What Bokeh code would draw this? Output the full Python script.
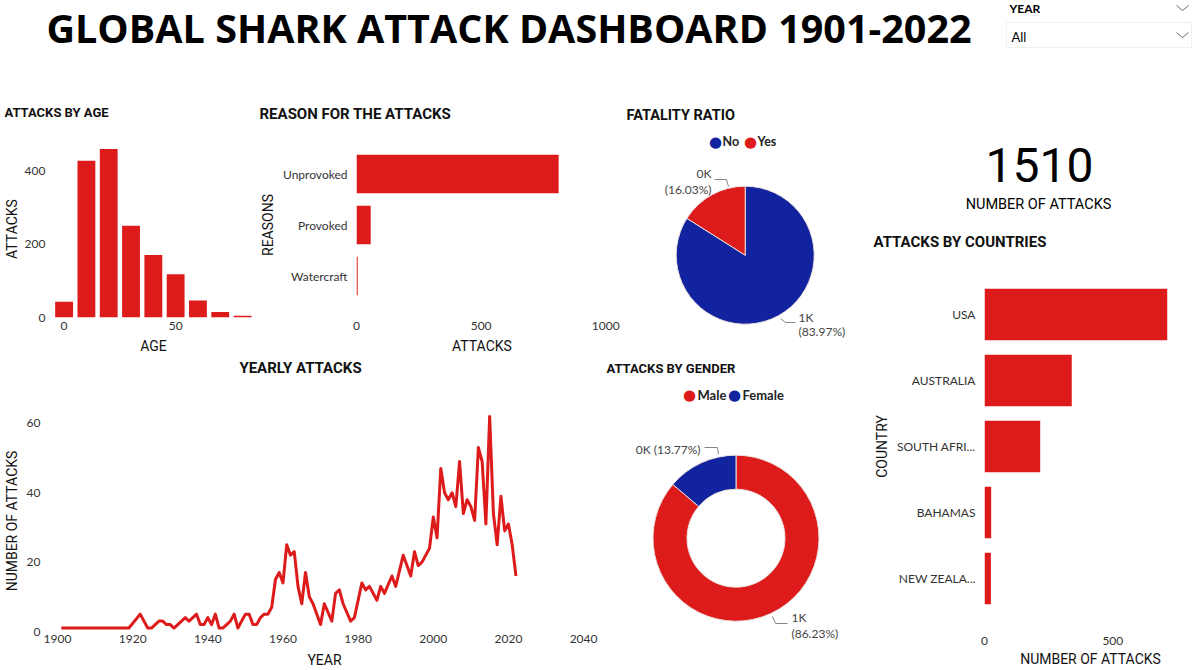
import numpy as np
from bokeh.plotting import figure
from bokeh.models import Range1d, FactorRange, FixedTicker, Label, ColumnDataSource
from bokeh.layouts import row, column
from bokeh.embed import file_html
from bokeh.resources import INLINE

# ---------------- data ----------------
age_bins = [0, 10, 20, 30, 40, 50, 60, 70, 80]
age_attacks = [43, 427, 459, 250, 170, 118, 46, 15, 5]

reasons = ["Unprovoked", "Provoked", "Watercraft"]
reason_attacks = [811, 57, 5]

fatal_labels = ["No", "Yes"]
fatal_counts = [1268, 242]

gender_labels = ["Male", "Female"]
gender_counts = [1302, 208]

countries = ["USA", "AUSTRALIA", "SOUTH AFRICA", "BAHAMAS", "NEW ZEALAND"]
country_attacks = [712, 340, 217, 26, 25]
country_short = {"SOUTH AFRICA": "SOUTH AFRI...", "NEW ZEALAND": "NEW ZEALA..."}

years = [1901, 1919, 1922, 1924, 1925, 1927, 1928, 1929, 1930, 1931, 1934, 1935,
         1937, 1938, 1939, 1940, 1941, 1942, 1943, 1944, 1945, 1946, 1947, 1948,
         1950, 1951, 1952, 1953, 1954, 1955, 1956, 1957, 1958, 1959, 1960, 1961,
         1962, 1963, 1964, 1965, 1966, 1967, 1968, 1970, 1971, 1973, 1974, 1975,
         1976, 1978, 1979, 1981, 1982, 1983, 1985, 1986, 1987, 1989, 1990, 1992,
         1994, 1995, 1996, 1997, 1999, 2000, 2001, 2002, 2003, 2004, 2005, 2006,
         2007, 2008, 2009, 2010, 2011, 2012, 2013, 2014, 2015, 2016, 2017, 2018,
         2019, 2020, 2021, 2022]
yearly_attacks = [1, 1, 5, 1, 1, 3, 3, 2, 2, 1, 4, 3,
                  5, 2, 2, 4, 2, 5, 1, 1, 2, 3, 5, 1,
                  5, 5, 2, 2, 4, 5, 5, 7, 15, 17, 14, 25,
                  22, 23, 13, 8, 17, 10, 8, 2, 8, 3, 11, 12,
                  8, 3, 4, 14, 12, 13, 9, 13, 11, 16, 13, 22,
                  16, 23, 19, 20, 24, 33, 27, 47, 40, 38, 40, 36,
                  49, 34, 38, 36, 32, 53, 49, 31, 62, 34, 25, 39,
                  29, 31, 25, 16]

total_attacks = 1510
dashboard_title = "GLOBAL SHARK ATTACK DASHBOARD 1901-2022"

# ---------------- style ----------------
BG = "#E9DFDC"
RED = "#DE1B1B"
BLUE = "#11239E"
INK = "#111111"
TICK = "#333333"
TF = "Roboto"
LF = "Lato"
HF = "Open Sans"


def base_fig(w, h, axes=True, **kw):
    if not axes:
        kw.setdefault("x_axis_location", None)
        kw.setdefault("y_axis_location", None)
        kw.setdefault("x_range", Range1d(0, 1))
        kw.setdefault("y_range", Range1d(0, 1))
    p = figure(width=w, height=h, output_backend="svg", toolbar_location=None, **kw)
    p.background_fill_color = None
    p.border_fill_color = None
    p.outline_line_color = None
    p.grid.visible = False
    if "frame_align" in p.properties():
        p.frame_align = False
    if not axes:
        p.min_border = 0
    return p


def style_axes(p):
    for ax in p.axis:
        ax.axis_line_color = None
        ax.major_tick_line_color = None
        ax.minor_tick_line_color = None
        ax.major_tick_out = 0
        ax.major_tick_in = 0
        ax.major_label_text_font = LF
        ax.major_label_text_font_size = "12px"
        ax.major_label_text_color = TICK
        ax.axis_label_text_font = TF
        ax.axis_label_text_font_size = "14px"
        ax.axis_label_text_font_style = "normal"
        ax.axis_label_text_color = INK


def txt(p, x, y, text, size, font=TF, bold=False, color=INK, align="left", baseline="middle"):
    p.add_layout(Label(x=x, y=y, x_units="canvas", y_units="canvas", text=text,
                       text_font=font, text_font_size=f"{size}px",
                       text_font_style="bold" if bold else "normal",
                       text_color=color, text_align=align, text_baseline=baseline))


def title_fig(w, h, text, x, y, size, align="left"):
    t = base_fig(w, h, axes=False)
    txt(t, x, y, text, size, bold=True, align=align)
    return t


def clock_angles(counts):
    fr = np.cumsum([0] + list(counts)) / float(sum(counts))
    return list(np.pi / 2 - 2 * np.pi * fr[:-1]), list(np.pi / 2 - 2 * np.pi * fr[1:])


def klabel(v):
    return f"{round(v / 1000)}K"


def plabel(v, tot):
    return f"({v / tot * 100:.2f}%)"


def leader(p, pts, cx, cy):
    p.line([x - cx for x, _ in pts], [cy - y for _, y in pts], line_color="#8A8480", line_width=1)


# ---------------- header (0,0) 1200x92 ----------------
p_head = base_fig(1200, 92, axes=False, x_range=Range1d(0, 1200), y_range=Range1d(92, 0))
txt(p_head, 508.5, 27, dashboard_title, 39.5, font=HF, bold=True, color="#000000", align="center",
    baseline="alphabetic")
txt(p_head, 1009, 8, "YEAR", 12, font=LF, bold=True, color="#000000")
txt(p_head, 1011, 36, "All", 13, font=LF, color="#000000")
p_head.quad(left=[1006], right=[1191], top=[22], bottom=[47], fill_color=None, line_color="#F4EFEE",
            line_width=1)
p_head.multi_line(xs=[[1176, 1182, 1188], [1176, 1182, 1188]], ys=[[5, 10, 5], [32, 37, 32]],
                  line_color="#6E6A68", line_width=1)

# ---------------- attacks by age: title (0,92) 255x48, chart (0,140) 255x216 ----------------
t_age = title_fig(255, 48, "ATTACKS BY AGE", 4, 20, 13)
p_age = base_fig(255, 216, x_range=Range1d(-4.75, 84.9), y_range=Range1d(0, 482),
                 min_border_left=51, min_border_right=2, min_border_top=0, min_border_bottom=39)
p_age.vbar(x=age_bins, top=age_attacks, width=8, fill_color=RED, line_color=None)
style_axes(p_age)
p_age.xaxis.ticker = FixedTicker(ticks=[0, 50])
p_age.yaxis.ticker = FixedTicker(ticks=[0, 200, 400])
p_age.xaxis.axis_label = "AGE"
p_age.yaxis.axis_label = "ATTACKS"
p_age.xaxis.major_label_standoff = 4
p_age.xaxis.axis_label_standoff = 5
p_age.yaxis.major_label_standoff = 8
p_age.yaxis.axis_label_standoff = 2

# ---------------- reasons: title (255,92) 365x56, chart (255,148) 365x208 ----------------
t_rea = title_fig(365, 56, "REASON FOR THE ATTACKS", 4, 21, 15)
p_rea = base_fig(365, 208, x_range=Range1d(0, 1007), y_range=FactorRange(*reasons[::-1]),
                 min_border_left=101, min_border_right=13, min_border_top=0, min_border_bottom=55)
p_rea.hbar(y=reasons, right=reason_attacks, height=0.754, fill_color=RED, line_color=None)
style_axes(p_rea)
p_rea.xaxis.ticker = FixedTicker(ticks=[0, 500, 1000])
p_rea.xaxis.axis_label = "ATTACKS"
p_rea.yaxis.axis_label = "REASONS"
p_rea.xaxis.major_label_standoff = 20
p_rea.xaxis.axis_label_standoff = 5
p_rea.yaxis.major_label_standoff = 9
p_rea.yaxis.axis_label_standoff = 4

# ---------------- fatality pie (620,92) 240x264 ----------------
FW, FH, fcx, fcy, FR = 240, 264, 124.7, 162.7, 69
p_fat = base_fig(FW, FH, axes=False, x_range=Range1d(-fcx, FW - fcx), y_range=Range1d(-(FH - fcy), fcy))
fs, fe = clock_angles(fatal_counts)
fsrc = ColumnDataSource(dict(label=fatal_labels, count=fatal_counts, start=fs, end=fe, color=[BLUE, RED]))
p_fat.wedge(x=0, y=0, radius=FR, start_angle="start", end_angle="end", direction="clock",
            fill_color="color", line_color=BG, line_width=1, source=fsrc)
ftot = sum(fatal_counts)
txt(p_fat, 6, 23, "FATALITY RATIO", 14.5, bold=True)
txt(p_fat, 95, 49, "\u25CF", 15, font="DejaVu Sans", color=BLUE, align="center")
txt(p_fat, 102, 49, fatal_labels[0], 12.5, font=LF, bold=True, color="#222222")
txt(p_fat, 130, 49, "\u25CF", 15, font="DejaVu Sans", color=RED, align="center")
txt(p_fat, 137, 49, fatal_labels[1], 12.5, font=LF, bold=True, color="#222222")
txt(p_fat, 91, 81, klabel(fatal_counts[1]), 12, font=LF, color="#444444", align="right")
txt(p_fat, 91, 97, plabel(fatal_counts[1], ftot), 12, font=LF, color="#444444", align="right")
txt(p_fat, 178, 225, klabel(fatal_counts[0]), 12, font=LF, color="#444444")
txt(p_fat, 178, 239, plabel(fatal_counts[0], ftot), 12, font=LF, color="#444444")
leader(p_fat, [(94, 87), (106, 87), (108, 94)], fcx, fcy)
leader(p_fat, [(160, 226), (165, 230), (175, 230)], fcx, fcy)

# ---------------- KPI (860,92) 340x128 ----------------
p_kpi = base_fig(340, 128, axes=False)
txt(p_kpi, 179, 72, f"{total_attacks}", 48, font=TF, color="#000000", align="center")
txt(p_kpi, 178, 112, "NUMBER OF ATTACKS", 14.5, font=TF, color="#000000", align="center")

# ---------------- countries: title (860,220) 340x61, chart (860,281) 340x389 ----------------
t_cty = title_fig(340, 61, "ATTACKS BY COUNTRIES", 13, 21, 15)
country_names = [country_short.get(c, c) for c in countries]
p_cty = base_fig(340, 389, x_range=Range1d(0, 826), y_range=FactorRange(*country_names[::-1]),
                 min_border_left=124, min_border_right=4, min_border_top=0, min_border_bottom=59)
p_cty.hbar(y=country_names, right=country_attacks, height=0.78, fill_color=RED, line_color=None)
style_axes(p_cty)
p_cty.xaxis.ticker = FixedTicker(ticks=[0, 500])
p_cty.xaxis.axis_label = "NUMBER OF ATTACKS"
p_cty.yaxis.axis_label = "COUNTRY"
p_cty.xaxis.major_label_standoff = 25
p_cty.xaxis.axis_label_standoff = 3
p_cty.yaxis.major_label_standoff = 9
p_cty.yaxis.axis_label_standoff = 4

# ---------------- yearly: title (0,356) 600x54, chart (0,410) 600x260 ----------------
t_yr = title_fig(600, 54, "YEARLY ATTACKS", 300, 11, 15, align="center")
p_yr = base_fig(600, 260, x_range=Range1d(1897.6, 2044.5), y_range=Range1d(0, 63.7),
                min_border_left=48, min_border_right=0, min_border_top=0, min_border_bottom=39)
p_yr.line(years, yearly_attacks, line_width=3, line_color=RED, line_join="round")
style_axes(p_yr)
p_yr.xaxis.ticker = FixedTicker(ticks=list(range(1900, 2041, 20)))
p_yr.yaxis.ticker = FixedTicker(ticks=[0, 20, 40, 60])
p_yr.xaxis.axis_label = "YEAR"
p_yr.yaxis.axis_label = "NUMBER OF ATTACKS"
p_yr.xaxis.major_label_standoff = 3
p_yr.xaxis.axis_label_standoff = 6
p_yr.yaxis.major_label_standoff = 8
p_yr.yaxis.axis_label_standoff = 4

# ---------------- gender donut (600,356) 260x314 ----------------
GW, GH, gcx, gcy = 260, 314, 135.5, 181.7
p_gen = base_fig(GW, GH, axes=False, x_range=Range1d(-gcx, GW - gcx), y_range=Range1d(-(GH - gcy), gcy))
gs, ge = clock_angles(gender_counts)
gsrc = ColumnDataSource(dict(label=gender_labels, count=gender_counts, start=gs, end=ge, color=[RED, BLUE]))
p_gen.annular_wedge(x=0, y=0, inner_radius=49, outer_radius=83, start_angle="start", end_angle="end",
                    direction="clock", fill_color="color", line_color=BG, line_width=1, source=gsrc)
gtot = sum(gender_counts)
txt(p_gen, 6, 12, "ATTACKS BY GENDER", 13, bold=True)
txt(p_gen, 89, 38, "\u25CF", 15, font="DejaVu Sans", color=RED, align="center")
txt(p_gen, 97, 38, gender_labels[0], 13, font=LF, bold=True, color="#222222")
txt(p_gen, 134, 38, "\u25CF", 15, font="DejaVu Sans", color=BLUE, align="center")
txt(p_gen, 142, 38, gender_labels[1], 13, font=LF, bold=True, color="#222222")
txt(p_gen, 100, 93, f"{klabel(gender_counts[1])} {plabel(gender_counts[1], gtot)}", 12, font=LF,
    color="#444444", align="right")
txt(p_gen, 191, 261, klabel(gender_counts[0]), 12, font=LF, color="#444444")
txt(p_gen, 191, 277, plabel(gender_counts[0], gtot), 12, font=LF, color="#444444")
leader(p_gen, [(104, 91), (117, 91), (118, 98)], gcx, gcy)
leader(p_gen, [(172, 260), (175, 267), (187, 267)], gcx, gcy)

# ---------------- layout ----------------
row1 = row(column(t_age, p_age), column(t_rea, p_rea), p_fat)
row2 = row(column(t_yr, p_yr), p_gen)
left_block = column(row1, row2)
right_block = column(p_kpi, t_cty, p_cty)
layout = column(p_head, row(left_block, right_block))

html = file_html(layout, INLINE, title="Global Shark Attack Dashboard")
html = html.replace("<body>", f'<body style="background:{BG};">', 1)
open("out.html", "w").write(html)
